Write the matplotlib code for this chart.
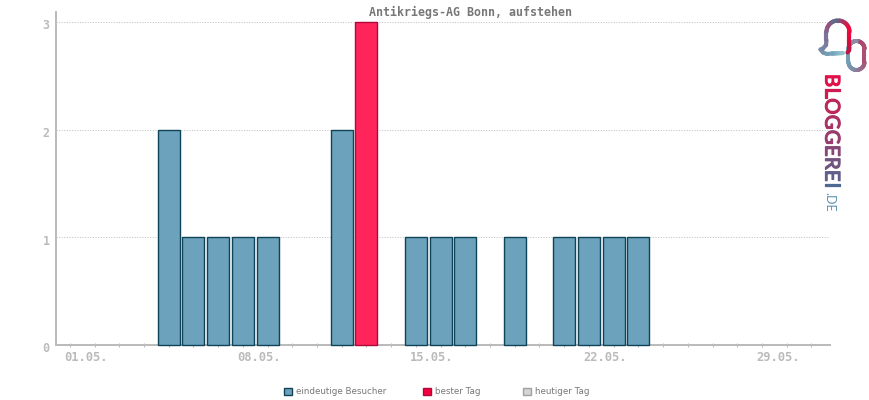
import numpy as np
import matplotlib
matplotlib.use("Agg")
import matplotlib.pyplot as plt
import matplotlib.patheffects as pe
from matplotlib.patches import Patch
from matplotlib.collections import LineCollection
from matplotlib.colors import to_rgb
from matplotlib.transforms import ScaledTranslation

title = "Antikriegs-AG Bonn, aufstehen"
days = list(range(31))
visitors = [0, 0, 0, 0, 2, 1, 1, 1, 1, 0, 0, 2, 3, 0, 1, 1, 1, 0, 1, 0, 1, 1, 1, 1, 0, 0, 0, 0, 0, 0, 0]
best_day = 12
label_days = [0, 7, 14, 21, 28]
x_labels = ["01.05.", "08.05.", "15.05.", "22.05.", "29.05."]
y_ticks = [0, 1, 2, 3]
legend_labels = ["eindeutige Besucher", "bester Tag", "heutiger Tag"]

W, H = 870, 400
GREY = "#bbbbbb"
BLUE, BLUE_E = "#6ca2bb", "#0f4358"
RED, RED_E = "#ff2459", "#b0073c"
MONO = "DejaVu Sans Mono"

fig = plt.figure(figsize=(W / 100, H / 100), dpi=100)
L, R, T, B = 56.0, 830.0, 12.0, 345.0
ax = fig.add_axes([L / W, 1 - B / H, (R - L) / W, (B - T) / H])
px_per_day = 24.72
x0 = 69.8
ax.set_xlim((L - x0) / px_per_day, (R - x0) / px_per_day)
ax.set_ylim(0, (B - T) / 107.7)

for s in ["top", "right"]:
    ax.spines[s].set_visible(False)
for s in ["left", "bottom"]:
    ax.spines[s].set_color(GREY)
    ax.spines[s].set_linewidth(1.44)

ax.yaxis.grid(True, color="#c4c4c4", linestyle=(0, (1, 1.5)), linewidth=0.75)
ax.set_axisbelow(True)

colors = [RED if d == best_day else BLUE for d in days]
edges = [RED_E if d == best_day else BLUE_E for d in days]
shown = [d for d in days if visitors[d] > 0]
ax.bar(shown, [visitors[d] for d in shown], width=0.89,
       color=[colors[d] for d in shown], edgecolor=[edges[d] for d in shown],
       linewidth=1.0, zorder=3, clip_on=False)

ax.xaxis.remove_overlapping_locs = False
ax.set_xticks(days)
ax.set_xticklabels([])
ax.tick_params(axis="x", which="major", direction="inout", length=3.0, width=0.75, color=GREY)
ax.set_xticks(label_days, minor=True)
ax.set_xticklabels(x_labels, minor=True, family=MONO, fontsize=8.7, color=GREY, weight="bold")
ax.tick_params(axis="x", which="minor", length=0, pad=4.2)
for lab in ax.get_xticklabels(minor=True):
    lab.set_transform(lab.get_transform() + ScaledTranslation(16.2 / 100, 0, fig.dpi_scale_trans))

ax.set_yticks(y_ticks)
ax.set_yticklabels([str(v) for v in y_ticks], family=MONO, fontsize=8.4, color=GREY, weight="bold")
ax.tick_params(axis="y", direction="out", length=0, pad=4.5)
for lab in ax.get_yticklabels():
    lab.set_transform(lab.get_transform() + ScaledTranslation(0, -2.5 / 100, fig.dpi_scale_trans))

fig.text(470.5 / W, 1 - 12 / H, title, ha="center", va="center", family=MONO,
         fontsize=8.4, color="#777777", weight="bold")

handles = [Patch(facecolor=BLUE, edgecolor=BLUE_E, linewidth=1),
           Patch(facecolor="#f5003c", edgecolor=RED_E, linewidth=1),
           Patch(facecolor="#d4d4d4", edgecolor="#a0a0a0", linewidth=1)]
legend_left_px = [284, 423, 523]
for h, lab, lx in zip(handles, legend_labels, legend_left_px):
    fig.legend([h], [lab], loc="center left", bbox_to_anchor=(lx / W, 1 - 392 / H),
               frameon=False, fontsize=6.3, labelcolor="#777777", handlelength=0.9, handleheight=0.95,
               handletextpad=0.45, borderpad=0, borderaxespad=0)

# logo, drawn in an overlay with pixel coordinates
ov = fig.add_axes([0, 0, 1, 1], zorder=5)
ov.set_xlim(0, W)
ov.set_ylim(H, 0)
ov.axis("off")
ov.patch.set_alpha(0)

def stroke(p, stops, lw=3.0):
    p = np.asarray(p, float)
    t = np.linspace(0, 1, len(p) - 1)
    rgb = np.array([to_rgb(c) for c in stops])
    s = np.linspace(0, 1, len(stops))
    cols = np.c_[[np.interp(t, s, rgb[:, i]) for i in range(3)]].T
    segs = np.stack([p[:-1], p[1:]], axis=1)
    ov.add_collection(LineCollection(segs, colors=cols, linewidths=lw, capstyle="round"))

def arc(cx, cy, r, a0, a1, n=30):
    a = np.radians(np.linspace(a0, a1, n))
    return np.c_[cx + r * np.cos(a), cy + r * np.sin(a)]

ring = np.vstack([arc(856.5, 49, 8, -90, 0), arc(856.5, 62, 8, 0, 180), arc(856.5, 49, 8, 180, 270)])
stroke(ring, ["#8f8aa5", "#a8456f", "#b0496f", "#a06080", "#7d8eaa", "#6ea3b8", "#7f94ac", "#8f8aa5"], 2.9)
bubble = np.vstack([
    np.c_[np.linspace(843, 832, 15), np.linspace(53, 53.5, 15)],
    np.c_[[827, 823, 820.5], [54, 52.5, 49.5]],
    np.c_[[823, 826, 826.5], [48.5, 45, 40]],
    arc(838, 32, 11.5, 180, 360),
    np.c_[np.linspace(849.5, 849.5, 10), np.linspace(32, 48, 10)],
    np.c_[[849, 847.5], [50.5, 52.5]],
])
stroke(bubble, ["#9ac4d2", "#8fbccb", "#74a8bd", "#7d7095", "#9a4f7e", "#55708f", "#b03060", "#f00a3c", "#e8083c", "#c01545"], 3.0)

letters = "BLOGGEREI"
start, end = np.array(to_rgb("#e0104a")), np.array(to_rgb("#4f6a92"))
y = 74.0
rend = fig.canvas.get_renderer()
for i, ch in enumerate(letters):
    c = start + (end - start) * i / (len(letters) - 1)
    t = ov.text(831, y, ch, rotation=-90, family="Lato", fontsize=14.6,
                color=c, ha="center", va="top",
                path_effects=[pe.withStroke(linewidth=0.9, foreground=c)])
    y = y + t.get_window_extent(rend).height + 0.3
ov.text(829, 191.5, ".DE", rotation=-90, family="Lato", fontsize=9.0, color="#5f95ae", ha="center", va="top")

fig.savefig("out.png", dpi=100)
